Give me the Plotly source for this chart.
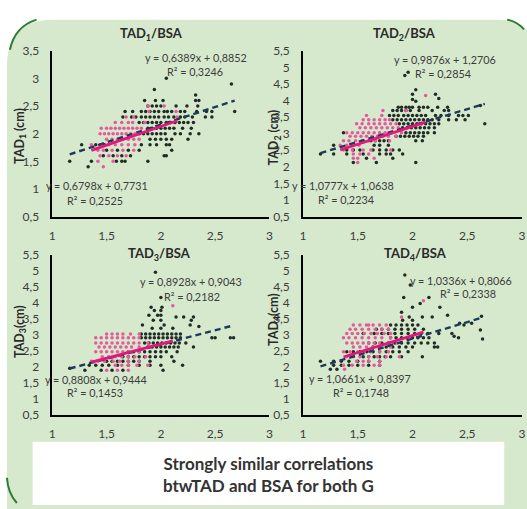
import plotly.graph_objects as go

W, H = 527, 509

# ---------------- data ----------------
x_tickvals = [1, 1.5, 2, 2.5, 3]
x_ticktext = ["1", "1,5", "2", "2,5", "3"]
y1_tickvals = [0.5, 1, 1.5, 2, 2.5, 3, 3.5]
y1_ticktext = ["0,5", "1", "1,5", "2", "2,5", "3", "3,5"]
y2_tickvals = [0.5, 1, 1.5, 2, 2.5, 3, 3.5, 4, 4.5, 5, 5.5]
y2_ticktext = ["0,5", "1", "1,5", "2", "2,5", "3", "3,5", "4", "4,5", "5", "5,5"]

titles = ["TAD<sub>1</sub>/BSA", "TAD<sub>2</sub>/BSA", "TAD<sub>3</sub>/BSA", "TAD<sub>4</sub>/BSA"]
ytitles = ["TAD<sub>1</sub> (cm)", "TAD<sub>2</sub> (cm)", "TAD<sub>3</sub>(cm)", "TAD<sub>4</sub>(cm)"]

# regression coefficients printed on the chart (dark group, pink group)
dark_slope = [0.6389, 0.9876, 0.8928, 1.0336]
dark_icpt = [0.8852, 1.2706, 0.9043, 0.8066]
dark_r2 = ["0,3246", "0,2854", "0,2182", "0,2338"]
dark_eq = ["y = 0,6389x + 0,8852", "y = 0,9876x + 1,2706", "y = 0,8928x + 0,9043", "y = 1,0336x + 0,8066"]
pink_slope = [0.6798, 1.0777, 0.8808, 1.0661]
pink_icpt = [0.7731, 1.0638, 0.9444, 0.8397]
pink_r2 = ["0,2525", "0,2234", "0,1453", "0,1748"]
pink_eq = ["y = 0,6798x + 0,7731", "y = 1,0777x + 1,0638", "y = 0,8808x + 0,9444", "y = 1,0661x + 0,8397"]

# scatter points as rows: (TAD value, [BSA values])
p1_dark = [
    (3.0, [2.05]), (2.9, [2.65]), (2.8, [1.94]), (2.7, [2.32]),
    (2.6, [1.85, 1.95, 2.02, 2.32, 2.35]),
    (2.5, [1.88, 1.92, 1.96, 2.0, 2.14, 2.24, 2.34]),
    (2.4, [1.67, 1.74, 1.82, 1.86, 1.9, 1.94, 1.98, 2.03, 2.06, 2.1, 2.18, 2.22, 2.33, 2.42, 2.47, 2.68]),
    (2.3, [1.65, 1.73, 1.77, 1.82, 1.86, 1.9, 1.94, 1.98, 2.03, 2.07, 2.12, 2.18, 2.22, 2.29, 2.41, 2.47]),
    (2.2, [1.8, 1.84, 1.88, 1.92, 1.96, 2.0, 2.05, 2.09, 2.13, 2.17, 2.21, 2.25, 2.3]),
    (2.1, [1.88, 1.92, 1.96, 2.0, 2.04, 2.08, 2.12, 2.2, 2.28]),
    (2.0, [1.8, 1.84, 1.88, 1.92, 1.96, 2.0, 2.04, 2.13, 2.18, 2.27, 2.35]),
    (1.9, [1.9, 1.95, 2.0, 2.05, 2.1, 2.25]),
    (1.8, [1.27, 1.4, 1.48, 1.82, 1.9, 1.96, 2.05, 2.08]),
    (1.7, [1.5, 1.6, 1.7, 1.8, 2.1]),
    (1.6, [1.47, 1.56, 1.64, 1.72, 2.03, 2.05]),
    (1.5, [1.16, 1.36, 1.59, 1.64, 1.67, 1.88]),
    (1.4, [1.33]),
]
p1_pink = [
    (2.5, [1.88, 2.03]), (2.4, [1.89, 2.14]), (2.3, [1.68, 1.75, 2.15]),
    (2.2, [1.58, 1.64, 1.7, 1.74, 1.85]),
    (2.1, [1.45, 1.5, 1.54, 1.58, 1.62, 1.66, 1.7, 1.74, 1.78, 1.82]),
    (2.0, [1.44, 1.48, 1.52, 1.56, 1.6, 1.64, 1.68, 1.72, 1.76]),
    (1.9, [1.5, 1.55, 1.6, 1.65, 1.7, 1.75, 1.8]),
    (1.8, [1.36, 1.44, 1.52, 1.58, 1.64, 1.7, 1.76]),
    (1.7, [1.42, 1.47, 1.55, 1.65, 1.75]),
    (1.6, [1.44, 1.52, 1.6, 1.68]),
    (1.5, [1.42, 1.56]), (1.4, [1.47]),
]
p2_dark = [
    (4.85, [1.96]), (4.75, [1.93]), (4.32, [2.03]), (4.19, [2.0, 2.21]), (4.06, [2.24]),
    (4.03, [2.0]), (3.98, [2.03]), (3.85, [2.62]),
    (3.8, [1.87, 1.9, 1.94, 1.97, 2.0, 2.06, 2.1, 2.14, 2.23, 2.32]),
    (3.7, [1.82, 1.86, 1.9, 1.94, 1.98, 2.06, 2.18, 2.29, 2.33]),
    (3.55, [1.79, 1.83, 1.87, 1.92, 1.96, 2.0, 2.04, 2.08, 2.12, 2.21, 2.26, 2.33, 2.42, 2.46, 2.51]),
    (3.42, [1.82, 1.86, 1.9, 1.94, 1.98, 2.02, 2.06, 2.1, 2.14, 2.18, 2.24, 2.33, 2.4, 2.48]),
    (3.3, [1.88, 1.92, 1.96, 2.0, 2.04, 2.08, 2.12, 2.16, 2.2, 2.24, 2.66]),
    (3.18, [1.91, 1.95, 1.99, 2.03, 2.07, 2.11, 2.15, 2.2]),
    (3.03, [1.37, 1.94, 1.98, 2.02, 2.06, 2.1, 2.14, 2.2]),
    (2.92, [1.85, 1.89, 1.93, 1.97, 2.01, 2.05, 2.1]),
    (2.79, [1.62, 1.66, 1.7, 1.74, 1.78, 2.03, 2.09]),
    (2.65, [1.28, 1.65, 1.7, 1.78]),
    (2.51, [1.4, 1.46, 1.52, 1.64, 1.7, 1.76, 1.82, 1.88]),
    (2.39, [1.16, 1.28, 1.4, 1.55, 1.7, 1.76, 1.8, 1.91]),
    (2.26, [1.58, 1.82]),
    (2.13, [1.46, 1.67, 2.03]),
]
p2_pink = [
    (4.15, [2.12]), (3.7, [1.73, 1.94]), (3.55, [1.58, 1.72]),
    (3.42, [1.55, 1.6, 1.65, 1.7, 1.75, 1.79]),
    (3.3, [1.49, 1.54, 1.6, 1.65, 1.7, 1.75, 1.8, 1.85]),
    (3.18, [1.52, 1.57, 1.62, 1.67, 1.72, 1.77, 1.82, 1.87]),
    (3.03, [1.4, 1.45, 1.5, 1.55, 1.6, 1.65, 1.7, 1.75, 1.8, 1.9]),
    (2.92, [1.43, 1.48, 1.53, 1.58, 1.63, 1.68, 1.73, 1.78, 1.85]),
    (2.79, [1.37, 1.42, 1.48, 1.54, 1.6, 1.66, 1.79]),
    (2.65, [1.34, 1.4, 1.45, 1.51]),
    (2.51, [1.37, 1.45, 1.55, 1.62, 1.8]),
    (2.39, [1.46, 1.52, 1.6]),
    (2.26, [1.46, 1.5, 1.65]),
    (2.13, [1.5]),
]
p3_dark = [
    (4.95, [1.95]), (4.16, [2.0]), (3.85, [1.91, 2.01]), (3.75, [1.94, 2.0]),
    (3.6, [1.89, 1.97, 2.0]), (3.55, [2.14, 2.21, 2.3]), (3.45, [1.93, 2.0, 2.28]),
    (3.3, [1.83, 2.03, 2.27]), (3.25, [2.35]), (3.2, [1.92, 2.0, 2.11]),
    (3.02, [1.82, 1.86, 1.9, 1.94, 1.98, 2.02, 2.06, 2.1, 2.14, 2.18]),
    (2.9, [1.82, 1.86, 1.9, 1.94, 1.98, 2.02, 2.06, 2.1, 2.14, 2.18, 2.47, 2.5, 2.64, 2.67]),
    (2.74, [1.85, 1.89, 1.93, 1.97, 2.01, 2.05, 2.09, 2.13, 2.17, 2.23]),
    (2.61, [1.88, 1.92, 1.96, 2.0, 2.04, 2.08, 2.12, 2.16, 2.3]),
    (2.46, [1.7, 1.75, 1.8, 1.85, 1.9, 1.95, 2.0, 2.05, 2.15]),
    (2.31, [1.65, 1.7, 1.75, 1.8, 1.85, 1.9, 1.95, 2.0, 2.1]),
    (2.17, [1.5, 1.55, 1.6, 1.65, 1.7, 1.75, 1.8, 1.9, 2.12]),
    (2.04, [1.34, 1.4, 1.46, 1.52, 1.6, 1.7, 1.8, 1.9, 2.0, 2.2]),
    (1.95, [1.16]),
    (1.89, [1.3, 1.45, 1.55, 1.65, 2.02]),
]
p3_pink = [
    (3.9, [2.11]),
    (3.02, [1.5, 1.55, 1.6, 1.65, 1.72, 1.8]),
    (2.9, [1.4, 1.45, 1.5, 1.55, 1.6, 1.65, 1.7, 1.75, 1.8]),
    (2.74, [1.4, 1.45, 1.5, 1.55, 1.6, 1.65, 1.7, 1.75, 1.8, 1.88]),
    (2.61, [1.43, 1.48, 1.53, 1.58, 1.63, 1.68, 1.73, 1.8, 1.9]),
    (2.46, [1.4, 1.45, 1.5, 1.55, 1.6, 1.65, 1.7, 1.8]),
    (2.31, [1.46, 1.52, 1.58, 1.64, 1.7, 1.76, 1.86]),
    (2.17, [1.36, 1.42, 1.48, 1.56, 1.62, 1.7, 1.8]),
    (2.04, [1.58, 1.64, 1.7, 1.78, 1.88]),
    (1.89, [1.5, 1.6, 1.7]),
]
p4_dark = [
    (4.86, [1.93]), (4.55, [1.98]), (4.16, [1.92, 2.15]), (3.97, [2.07]),
    (3.85, [2.0, 2.25]), (3.7, [1.9]), (3.6, [2.32]), (3.57, [2.63]),
    (3.55, [1.97, 2.09, 2.18]), (3.45, [1.91, 2.0]), (3.35, [2.43, 2.54]),
    (3.3, [1.8, 1.85, 1.9, 1.95, 2.0, 2.05, 2.47]),
    (3.17, [1.67, 1.72, 1.78, 1.84, 1.9, 1.96, 2.02, 2.1]), (3.14, [2.62]),
    (3.03, [1.55, 1.65, 1.72, 1.78, 1.84, 1.9, 1.96, 2.02, 2.08, 2.14, 2.24, 2.36]),
    (2.95, [2.38]),
    (2.9, [1.8, 1.85, 1.9, 1.95, 2.0, 2.05, 2.1, 2.15, 2.42]), (2.86, [2.64]),
    (2.74, [1.6, 1.66, 1.72, 1.78, 1.84, 1.9, 1.96, 2.02, 2.08, 2.14, 2.2]),
    (2.61, [1.64, 1.7, 1.76, 1.82, 1.88, 1.94, 2.0, 2.2, 2.23]),
    (2.46, [1.4, 1.46, 1.52, 1.58, 1.64, 1.7, 1.76, 1.82, 1.88, 1.96]),
    (2.31, [1.55, 1.6, 1.65, 1.7, 1.75, 1.8, 1.9, 2.09]),
    (2.17, [1.16, 1.28, 1.35, 1.42, 1.5, 1.6, 1.7]),
    (2.04, [1.28, 1.35, 1.42, 1.5, 1.6, 1.7]),
    (1.92, [1.25, 1.31]),
]
p4_pink = [
    (4.06, [2.1]), (3.55, [1.9]),
    (3.3, [1.46, 1.52, 1.58, 1.6, 1.64, 1.7, 1.76]),
    (3.17, [1.43, 1.48, 1.54, 1.6, 1.66, 1.72, 1.78]),
    (3.03, [1.4, 1.45, 1.5, 1.56, 1.62, 1.68, 1.74, 1.8]),
    (2.9, [1.37, 1.42, 1.48, 1.54, 1.6, 1.66, 1.72, 1.8]),
    (2.74, [1.4, 1.45, 1.5, 1.55, 1.6, 1.65, 1.7, 1.78, 1.86]),
    (2.61, [1.46, 1.52, 1.58, 1.64, 1.7, 1.8]),
    (2.46, [1.37, 1.43, 1.5, 1.56, 1.62, 1.7, 1.78]),
    (2.31, [1.4, 1.46, 1.52, 1.6, 1.68, 1.76, 1.88]),
    (2.17, [1.49, 1.55, 1.6, 1.7]),
    (2.04, [1.37, 1.45, 1.55, 1.65, 1.7]),
    (1.92, [1.38]),
]

box_text = "Strongly similar correlations<br>btwTAD and BSA for both G"

# ---------------- styling / layout ----------------
FONT = "Lato, 'Open Sans', sans-serif"
TXT = "#3c3c3c"
DARK = "#222c27"
PINK = "#e45a9c"
DASH = "#1d3a5a"
PLINE = "#e6157a"
BG = "#d6e9cd"


def fx(p):
    return p / W


def fy(p):
    return 1 - p / H


def flatten(rows):
    xs, ys = [], []
    for yv, xlist in rows:
        for xv in xlist:
            xs.append(xv)
            ys.append(yv)
    return xs, ys


panels = [
    dict(dark=p1_dark, pink=p1_pink, xd=(50, 270), yd=(215, 44), yr=(0.5, 3.5), yt=(y1_tickvals, y1_ticktext),
         title=(151, 27), ytit=(17, 132), eq1=(143, 51), r1=(165, 65), eq2=(43, 183), r2=(64, 198)),
    dict(dark=p2_dark, pink=p2_pink, xd=(304, 526), yd=(215, 44), yr=(0.5, 5.5), yt=(y2_tickvals, y2_ticktext),
         title=(407, 27), ytit=(275, 133), eq1=(395, 53), r1=(417, 68), eq2=(292, 183), r2=(318, 197)),
    dict(dark=p3_dark, pink=p3_pink, xd=(50, 270), yd=(419, 254), yr=(0.5, 5.5), yt=(y2_tickvals, y2_ticktext),
         title=(159, 253), ytit=(17, 333), eq1=(138, 282), r1=(162, 297), eq2=(42, 383), r2=(64, 396)),
    dict(dark=p4_dark, pink=p4_pink, xd=(304, 526), yd=(419, 254), yr=(0.5, 5.5), yt=(y2_tickvals, y2_ticktext),
         title=(418, 253), ytit=(275, 321), eq1=(411, 281), r1=(442, 294), eq2=(309, 382), r2=(333, 396)),
]

fig = go.Figure()
layout = dict(
    width=W, height=H, margin=dict(l=0, r=0, t=0, b=0),
    paper_bgcolor="white", plot_bgcolor="rgba(0,0,0,0)", showlegend=False,
    font=dict(family=FONT, color=TXT, size=12),
)
annotations = []

for i, p in enumerate(panels):
    k = "" if i == 0 else str(i + 1)
    xa, ya = "x" + k, "y" + k
    dx, dy = flatten(p["dark"])
    pxs, pys = flatten(p["pink"])
    fig.add_trace(go.Scatter(x=dx, y=dy, mode="markers", xaxis=xa, yaxis=ya,
                             marker=dict(size=3.5, color=DARK), cliponaxis=False))
    fig.add_trace(go.Scatter(x=pxs, y=pys, mode="markers", xaxis=xa, yaxis=ya,
                             marker=dict(size=3.5, color=PINK), cliponaxis=False))
    # trend lines from printed equations across each group's BSA range
    dxr = [min(dx), max(dx)]
    fig.add_trace(go.Scatter(x=dxr, y=[dark_slope[i] * v + dark_icpt[i] for v in dxr], mode="lines",
                             xaxis=xa, yaxis=ya, line=dict(color=DASH, width=2.4, dash="6px,4px")))
    pxr = [min(pxs), max(pxs)]
    fig.add_trace(go.Scatter(x=pxr, y=[pink_slope[i] * v + pink_icpt[i] for v in pxr], mode="lines",
                             xaxis=xa, yaxis=ya, line=dict(color=PLINE, width=2.8)))

    layout["xaxis" + k] = dict(domain=[fx(p["xd"][0]), fx(p["xd"][1])], anchor=ya, range=[1, 3],
                               tickvals=x_tickvals, ticktext=x_ticktext, showgrid=False, zeroline=False,
                               showline=True, linecolor="black", linewidth=1.5,
                               ticks="outside", ticklen=7, tickcolor="rgba(0,0,0,0)",
                               tickfont=dict(size=12, color=TXT, family=FONT))
    layout["yaxis" + k] = dict(domain=[fy(p["yd"][0]), fy(p["yd"][1])], anchor=xa, range=list(p["yr"]),
                               tickvals=p["yt"][0], ticktext=p["yt"][1], showgrid=False, zeroline=False,
                               showline=True, linecolor="black", linewidth=1.5,
                               ticks="outside", ticklen=9, tickcolor="rgba(0,0,0,0)",
                               tickfont=dict(size=12, color=TXT, family=FONT))

    annotations.append(dict(text="<b>" + titles[i] + "</b>", x=fx(p["title"][0]), y=fy(p["title"][1]),
                            xref="paper", yref="paper", showarrow=False, xanchor="center", yanchor="middle",
                            font=dict(size=13, color="#2a2a2a", family=FONT)))
    annotations.append(dict(text="<b>" + ytitles[i] + "</b>", x=fx(p["ytit"][0]), y=fy(p["ytit"][1]),
                            xref="paper", yref="paper", showarrow=False, textangle=-90,
                            xanchor="center", yanchor="middle", font=dict(size=12.5, color="#2a2a2a", family=FONT)))
    for txt, pos in [(dark_eq[i], p["eq1"]), ("R² = " + dark_r2[i], p["r1"]),
                     (pink_eq[i], p["eq2"]), ("R² = " + pink_r2[i], p["r2"])]:
        annotations.append(dict(text=txt, x=fx(pos[0]), y=fy(pos[1]), xref="paper", yref="paper",
                                showarrow=False, xanchor="left", yanchor="middle", borderpad=0,
                                font=dict(size=10.8, color=TXT, family=FONT)))

annotations.append(dict(text="<b>" + box_text + "</b>", x=fx(269), y=fy(481), xref="paper", yref="paper",
                        showarrow=False, xanchor="center", yanchor="middle", align="center",
                        font=dict(size=17, color="#333333", family=FONT)))

shapes = [
    # green card
    dict(type="path", xref="paper", yref="paper", layer="below",
         path=f"M {fx(4)},{fy(60)} Q {fx(4)},{fy(12)} {fx(50)},{fy(12)} L {fx(500)},{fy(12)} "
              f"Q {fx(540)},{fy(12)} {fx(540)},{fy(50)} L {fx(540)},{fy(520)} L {fx(4)},{fy(520)} Z",
         fillcolor=BG, line=dict(width=0)),
    # dark green rounded corners
    dict(type="path", xref="paper", yref="paper", layer="below",
         path=f"M {fx(7)},{fy(43)} Q {fx(12)},{fy(19)} {fx(34)},{fy(12)}",
         line=dict(color="#2f7a35", width=2)),
    dict(type="path", xref="paper", yref="paper", layer="below",
         path=f"M {fx(511)},{fy(12)} Q {fx(521)},{fy(14)} {fx(528)},{fy(22)}",
         line=dict(color="#2f7a35", width=2)),
    dict(type="path", xref="paper", yref="paper", layer="below",
         path=f"M {fx(4)},{fy(484)} Q {fx(5)},{fy(500)} {fx(14)},{fy(510)}",
         line=dict(color="#2f7a35", width=2)),
    # white text box
    dict(type="rect", xref="paper", yref="paper", layer="below",
         x0=fx(30), x1=fx(508), y0=fy(512), y1=fy(447), fillcolor="white", line=dict(width=0)),
]

layout["annotations"] = annotations
layout["shapes"] = shapes
fig.update_layout(**layout)
fig.write_html(
    "out.html",
    config={"displayModeBar": False},
    post_script="document.body.style.margin='0';document.body.style.padding='0';"
                "document.body.style.overflow='hidden';",
)
